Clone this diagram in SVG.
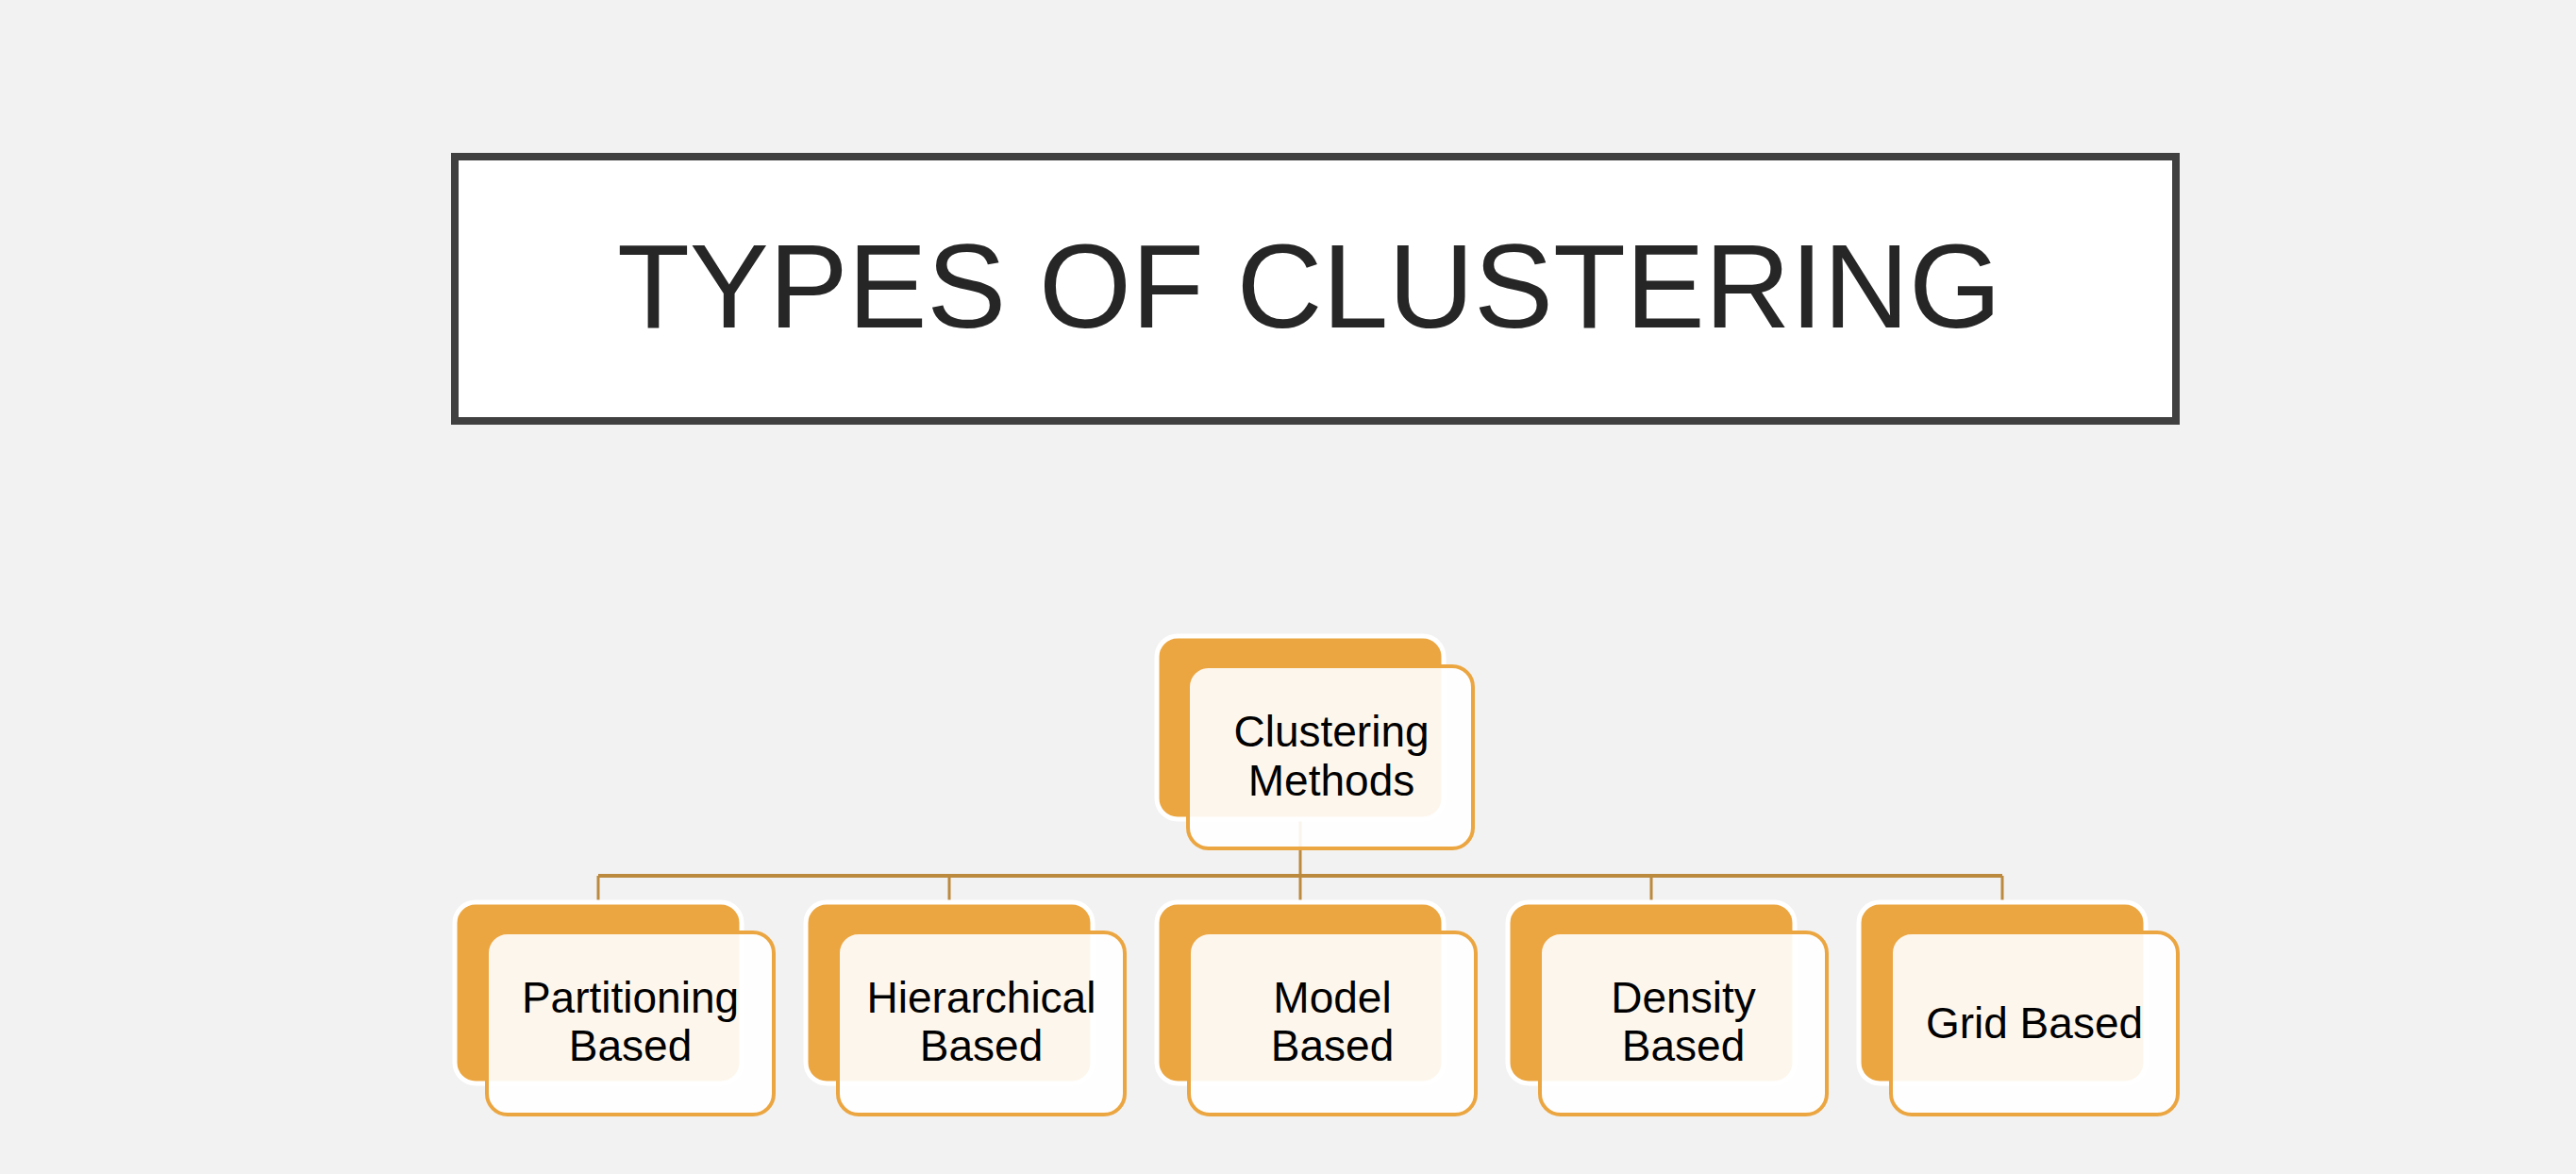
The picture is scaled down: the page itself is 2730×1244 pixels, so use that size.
<svg xmlns="http://www.w3.org/2000/svg" width="2730" height="1244" viewBox="0 0 2730 1244">
<style>
.back{fill:#EBA641;stroke:#FFFFFF;stroke-width:5}
.front{fill:#FFFFFF;fill-opacity:0.9;stroke:#EBA641;stroke-width:4}
.lbl{font-family:"Gill Sans","Liberation Sans",Arial,sans-serif;font-size:46px;fill:#000000;text-anchor:middle}
.conn{stroke:#BC8A3E;fill:none}
</style>
<rect x="0" y="0" width="2730" height="1244" fill="#F2F2F2"/>
<g id="title">
<rect x="482" y="166" width="1824" height="280" fill="#FFFFFF" stroke="#404040" stroke-width="8"/>
<text x="654" y="347" font-family="'Liberation Sans',Arial,sans-serif" font-size="126" fill="#262626" textLength="1467" lengthAdjust="spacing">TYPES OF CLUSTERING</text>
</g>
<g id="connectors">
<line class="conn" x1="1378" y1="866" x2="1378" y2="928" stroke-width="3"/>
<line class="conn" x1="634" y1="928" x2="2122" y2="928" stroke-width="4"/>
<line class="conn" x1="634" y1="928" x2="634" y2="956" stroke-width="3"/>
<line class="conn" x1="1006" y1="928" x2="1006" y2="956" stroke-width="3"/>
<line class="conn" x1="1378" y1="928" x2="1378" y2="956" stroke-width="3"/>
<line class="conn" x1="1750" y1="928" x2="1750" y2="956" stroke-width="3"/>
<line class="conn" x1="2122" y1="928" x2="2122" y2="956" stroke-width="3"/>
</g>
<g id="root">
<rect class="back" x="1226" y="674" width="304" height="194" rx="22"/>
<rect class="front" x="1259" y="706" width="302" height="193" rx="22"/>
<text class="lbl" x="1411" y="791">Clustering</text>
<text class="lbl" x="1411" y="843">Methods</text>
</g>
<g id="partitioning">
<rect class="back" x="482" y="956" width="304" height="192" rx="22"/>
<rect class="front" x="516" y="988" width="304" height="193" rx="22"/>
<text class="lbl" x="668" y="1073">Partitioning</text>
<text class="lbl" x="668" y="1124">Based</text>
</g>
<g id="hierarchical">
<rect class="back" x="854" y="956" width="304" height="192" rx="22"/>
<rect class="front" x="888" y="988" width="304" height="193" rx="22"/>
<text class="lbl" x="1040" y="1073">Hierarchical</text>
<text class="lbl" x="1040" y="1124">Based</text>
</g>
<g id="model">
<rect class="back" x="1226" y="956" width="304" height="192" rx="22"/>
<rect class="front" x="1260" y="988" width="304" height="193" rx="22"/>
<text class="lbl" x="1412" y="1073">Model</text>
<text class="lbl" x="1412" y="1124">Based</text>
</g>
<g id="density">
<rect class="back" x="1598" y="956" width="304" height="192" rx="22"/>
<rect class="front" x="1632" y="988" width="304" height="193" rx="22"/>
<text class="lbl" x="1784" y="1073">Density</text>
<text class="lbl" x="1784" y="1124">Based</text>
</g>
<g id="grid">
<rect class="back" x="1970" y="956" width="304" height="192" rx="22"/>
<rect class="front" x="2004" y="988" width="304" height="193" rx="22"/>
<text class="lbl" x="2156" y="1100">Grid Based</text>
</g>
</svg>
